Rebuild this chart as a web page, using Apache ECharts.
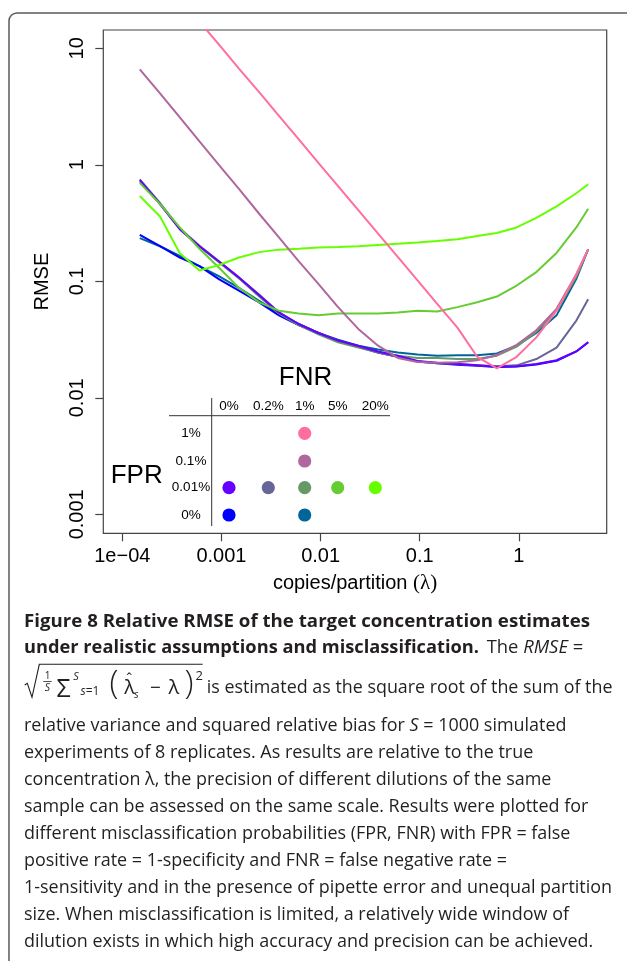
<!DOCTYPE html>
<html>
<head>
<meta charset="utf-8">
<script src="https://cdn.jsdelivr.net/npm/echarts@6/dist/echarts.min.js"></script>
<style>
html, body { margin: 0; padding: 0; background: #fff; }
#chart { width: 627px; height: 961px; }
</style>
</head>
<body>
<div id="chart"></div>
<script>
// copies/partition at which the curves were read
var lambda = [0.00015, 0.00024, 0.00038, 0.0006, 0.00095, 0.0015, 0.0024, 0.0038, 0.006, 0.0095, 0.015, 0.024,
  0.038, 0.06, 0.095, 0.15, 0.24, 0.38, 0.6, 0.95, 1.5, 2.4, 3.8, 5]

// RMSE per (FPR, FNR) combination
var rmseFpr0Fnr0 = [0.25, 0.20, 0.16, 0.135, 0.104, 0.083, 0.066, 0.051, 0.042, 0.036, 0.031, 0.0275,
  0.0245, 0.0225, 0.0205, 0.0198, 0.0192, 0.0188, 0.0184, 0.0186, 0.0193, 0.0208, 0.025, 0.030]
var rmseFpr0Fnr1 = [0.235, 0.20, 0.165, 0.135, 0.11, 0.088, 0.068, 0.053, 0.043, 0.036, 0.0315, 0.028,
  0.026, 0.0245, 0.0235, 0.023, 0.0232, 0.0232, 0.024, 0.028, 0.036, 0.051, 0.105, 0.188]
var rmseFpr001Fnr0 = [0.74, 0.46, 0.28, 0.20, 0.147, 0.108, 0.076, 0.054, 0.043, 0.036, 0.031, 0.028,
  0.025, 0.023, 0.0207, 0.020, 0.0195, 0.019, 0.0185, 0.0187, 0.0195, 0.021, 0.025, 0.030]
var rmseFpr001Fnr02 = [0.75, 0.47, 0.285, 0.202, 0.148, 0.108, 0.077, 0.054, 0.043, 0.036, 0.031, 0.0275,
  0.0245, 0.0225, 0.0205, 0.0198, 0.0195, 0.019, 0.0187, 0.019, 0.0215, 0.027, 0.046, 0.070]
var rmseFpr001Fnr1 = [0.72, 0.46, 0.28, 0.198, 0.145, 0.106, 0.074, 0.053, 0.042, 0.035, 0.030, 0.027,
  0.0245, 0.023, 0.022, 0.022, 0.0215, 0.0215, 0.023, 0.0275, 0.037, 0.056, 0.11, 0.188]
var rmseFpr001Fnr5 = [0.70, 0.46, 0.29, 0.19, 0.13, 0.088, 0.066, 0.056, 0.053, 0.051, 0.053, 0.053,
  0.053, 0.054, 0.056, 0.055, 0.06, 0.066, 0.074, 0.092, 0.12, 0.175, 0.29, 0.42]
var rmseFpr001Fnr20 = [0.54, 0.36, 0.174, 0.124, 0.138, 0.16, 0.178, 0.187, 0.19, 0.195, 0.197, 0.2,
  0.205, 0.21, 0.215, 0.222, 0.23, 0.245, 0.26, 0.29, 0.35, 0.44, 0.57, 0.68]
var rmseFpr01Fnr1 = [6.6, 4.1, 2.55, 1.59, 0.99, 0.62, 0.38, 0.238, 0.149, 0.095, 0.06, 0.039,
  0.028, 0.022, 0.0203, 0.020, 0.0202, 0.021, 0.0233, 0.0285, 0.038, 0.058, 0.115, 0.188]
var rmseFpr1Fnr1 = [null, null, null, 16.9, 10.7, 6.7, 4.2, 2.63, 1.66, 1.04, 0.656, 0.408,
  0.257, 0.162, 0.102, 0.064, 0.040, 0.0225, 0.0179, 0.0225, 0.033, 0.056, 0.115, 0.188]

var xTicks = [0.0001, 0.001, 0.01, 0.1, 1]
var xTickLabels = ['1e\u221204', '0.001', '0.01', '0.1', '1']
var yTicks = [0.001, 0.01, 0.1, 1, 10]
var yTickLabels = ['0.001', '0.01', '0.1', '1', '10']

var fnrLevels = ['0%', '0.2%', '1%', '5%', '20%']
var fprLevels = ['1%', '0.1%', '0.01%', '0%']

var curves = [
  { fpr: '0%', fnr: '1%', color: '#006699', values: rmseFpr0Fnr1 },
  { fpr: '0%', fnr: '0%', color: '#0000ff', values: rmseFpr0Fnr0 },
  { fpr: '0.01%', fnr: '1%', color: '#669966', values: rmseFpr001Fnr1 },
  { fpr: '0.01%', fnr: '0.2%', color: '#666699', values: rmseFpr001Fnr02 },
  { fpr: '0.01%', fnr: '0%', color: '#6600ff', values: rmseFpr001Fnr0 },
  { fpr: '0.01%', fnr: '5%', color: '#66cc33', values: rmseFpr001Fnr5 },
  { fpr: '0.01%', fnr: '20%', color: '#66ff00', values: rmseFpr001Fnr20 },
  { fpr: '0.1%', fnr: '1%', color: '#b0679e', values: rmseFpr01Fnr1 },
  { fpr: '1%', fnr: '1%', color: '#ff6e9e', values: rmseFpr1Fnr1 }
]

var captionLines = [
  'Figure 8 Relative RMSE of the target concentration estimates',
  'under realistic assumptions and misclassification.',
  'The {i|RMSE} =',
  'is estimated as the square root of the sum of the',
  'relative variance and squared relative bias for {i|S} = 1000 simulated',
  'experiments of 8 replicates. As results are relative to the true',
  'concentration \u03bb, the precision of different dilutions of the same',
  'sample can be assessed on the same scale. Results were plotted for',
  'different misclassification probabilities (FPR, FNR) with FPR = false',
  'positive rate = 1-specificity and FNR = false negative rate =',
  '1-sensitivity and in the presence of pipette error and unequal partition',
  'size. When misclassification is limited, a relatively wide window of',
  'dilution exists in which high accuracy and precision can be achieved.'
]
// line start, measured line end (null: use the common body scale), baseline
var capLeft = [24, 24, 486.7, 206.7, 24, 24, 24, 24, 24, 24, 24, 24, 24]
var capRight = [590, 479, 586.7, 612.5, null, null, null, null, null, null, 612, null, null]
var capBase = [629, 655, 655, 695, 732.5, 759.5, 786.5, 813.5, 840.5, 867.5, 894.5, 921.5, 948.5]

var AXIS_FONT = 'Liberation Sans'
var CAP_FAMILY = 'Open Sans'
var CAP_SIZE = 18.6
var CAP_COLOR = '#231f20'

function findLabel(ticks, labels, v) {
  for (var i = 0; i < ticks.length; i++) {
    if (Math.abs(Math.log10(ticks[i]) - Math.log10(v)) < 1e-6) return labels[i]
  }
  return ''
}

function label(str, x, y, size, extra) {
  return {
    type: 'text', x: x, y: y, silent: true,
    style: Object.assign({
      text: str, fontSize: size, fontFamily: AXIS_FONT, fill: '#000',
      textAlign: 'center', textVerticalAlign: 'middle'
    }, extra || {})
  }
}

var measureCtx = document.createElement('canvas').getContext('2d')
function textWidth(str, weight) {
  measureCtx.font = weight + ' ' + CAP_SIZE + 'px "' + CAP_FAMILY + '"'
  return measureCtx.measureText(str.replace(/\{i\|([^}]*)\}/g, '$1')).width
}
var bodyScale = (capRight[10] - capLeft[10]) / textWidth(captionLines[10], 'normal')

var capRich = {
  i: { fontStyle: 'italic', fontSize: CAP_SIZE, fontFamily: CAP_FAMILY, fill: CAP_COLOR }
}
function capText(k, bold) {
  var sx = bodyScale
  if (capRight[k] != null) sx = (capRight[k] - capLeft[k]) / textWidth(captionLines[k], bold ? 'bold' : 'normal')
  return {
    type: 'text', x: capLeft[k], y: capBase[k] - 0.388 * CAP_SIZE, scaleX: sx, silent: true,
    style: {
      text: captionLines[k], fontSize: CAP_SIZE, fontFamily: CAP_FAMILY, fontWeight: bold ? 'bold' : 'normal',
      fill: CAP_COLOR, textAlign: 'left', textVerticalAlign: 'middle', rich: capRich
    }
  }
}
function mathText(str, x, y, size, extra) {
  return label(str, x, y, size, Object.assign({ fontFamily: CAP_FAMILY, fill: CAP_COLOR }, extra || {}))
}

var graphics = []
// figure frame
graphics.push({ type: 'rect', shape: { x: 9, y: 13, width: 700, height: 1000, r: 8 },
  style: { fill: 'none', stroke: '#5a5a5a', lineWidth: 1.5 }, silent: true })

// legend table
var colX = [229, 268.3, 304.7, 337.7, 375.3]
var rowY = [433.3, 461, 487.7, 515]
graphics.push({ type: 'line', shape: { x1: 211.7, y1: 398, x2: 211.7, y2: 526 }, style: { stroke: '#333', lineWidth: 1 } })
graphics.push({ type: 'line', shape: { x1: 169, y1: 415.7, x2: 390, y2: 415.7 }, style: { stroke: '#333', lineWidth: 1 } })
fnrLevels.forEach(function (t, i) { graphics.push(label(t, colX[i], 406.7, 13.5)) })
fprLevels.forEach(function (t, i) { graphics.push(label(t, 191, rowY[i], 13.5)) })
curves.forEach(function (c) {
  graphics.push({ type: 'circle', silent: true,
    shape: { cx: colX[fnrLevels.indexOf(c.fnr)], cy: rowY[fprLevels.indexOf(c.fpr)], r: 6.6 },
    style: { fill: c.color } })
})
graphics.push(label('FNR', 305.5, 378, 26))
graphics.push(label('FPR', 136.7, 475.7, 26))

// caption
for (var k = 0; k < captionLines.length; k++) {
  graphics.push(capText(k, k < 2))
}
// RMSE formula
graphics.push({ type: 'polyline', silent: true,
  shape: { points: [[24.7, 685], [27.3, 683.3], [32, 697.3], [39.3, 664.3], [202.7, 664.3]] },
  style: { stroke: CAP_COLOR, lineWidth: 1.1, fill: null } })
graphics.push(mathText('1', 47.5, 676.5, 10))
graphics.push({ type: 'line', shape: { x1: 43.3, y1: 681.5, x2: 51.7, y2: 681.5 }, style: { stroke: CAP_COLOR, lineWidth: 0.8 } })
graphics.push(mathText('S', 47.5, 688, 10.5, { fontStyle: 'italic' }))
graphics.push(mathText('\u03a3', 63.5, 689.5, 25))
graphics.push(mathText('S', 76, 676.7, 11, { fontStyle: 'italic' }))
graphics.push(mathText('{i|s}=1', 90, 692, 12, { rich: { i: { fontStyle: 'italic', fontSize: 12, fontFamily: CAP_FAMILY, fill: CAP_COLOR } } }))
graphics.push(mathText('(', 114, 684.5, 33, { fontWeight: 300 }))
graphics.push(mathText('\u02c6', 129.3, 680, 16))
graphics.push(mathText('\u03bb', 129.5, 688.3, 20))
graphics.push(mathText('s', 136.5, 695.5, 10, { fontStyle: 'italic' }))
graphics.push(mathText('\u2212', 155.5, 688.5, 19))
graphics.push(mathText('\u03bb', 173.8, 688.3, 20))
graphics.push(mathText(')', 189, 684.5, 33, { fontWeight: 300 }))
graphics.push(mathText('2', 199.3, 676, 13))

var series = curves.map(function (c) {
  var pts = []
  lambda.forEach(function (x, i) {
    if (c.values[i] != null) pts.push([x, c.values[i]])
  })
  return {
    type: 'line', name: 'FPR ' + c.fpr + ', FNR ' + c.fnr, data: pts,
    showSymbol: false, symbol: 'none', clip: true, silent: true,
    lineStyle: { color: c.color, width: 2 }, itemStyle: { color: c.color }
  }
})

var option = {
  animation: false,
  backgroundColor: '#ffffff',
  grid: { left: 103.3, right: 20.3, top: 30, bottom: 427.7, show: true, borderColor: '#444', borderWidth: 1.2 },
  xAxis: {
    type: 'log', logBase: 10,
    min: Math.pow(10, -4.192), max: Math.pow(10, 0.886),
    axisLine: { show: false },
    splitLine: { show: false },
    axisTick: { show: true, length: 8, customValues: xTicks, lineStyle: { color: '#444', width: 1.2 } },
    axisLabel: {
      customValues: xTicks, margin: 13.5, fontSize: 20, fontFamily: AXIS_FONT, color: '#000',
      formatter: function (v) { return findLabel(xTicks, xTickLabels, v) }
    },
    name: 'copies/partition {l|(\u03bb)}', nameLocation: 'middle', nameGap: 40,
    nameTextStyle: {
      fontSize: 20, fontFamily: AXIS_FONT, color: '#000',
      rich: { l: { fontSize: 21, fontFamily: 'Liberation Serif', color: '#000' } }
    }
  },
  yAxis: {
    type: 'log', logBase: 10,
    min: Math.pow(10, -3.163), max: Math.pow(10, 1.157),
    axisLine: { show: false },
    splitLine: { show: false },
    axisTick: { show: true, length: 8, customValues: yTicks, lineStyle: { color: '#444', width: 1.2 } },
    axisLabel: {
      customValues: yTicks, rotate: 90, margin: 15.5, fontSize: 20, fontFamily: AXIS_FONT, color: '#000',
      formatter: function (v) { return findLabel(yTicks, yTickLabels, v) }
    },
    name: 'RMSE', nameLocation: 'middle', nameGap: 50.5,
    nameTextStyle: { fontSize: 20, fontFamily: AXIS_FONT, color: '#000' }
  },
  series: series,
  graphic: { elements: graphics }
}

var chart = echarts.init(document.getElementById('chart'), null, { renderer: 'canvas' })
chart.setOption(option)
</script>
</body>
</html>
